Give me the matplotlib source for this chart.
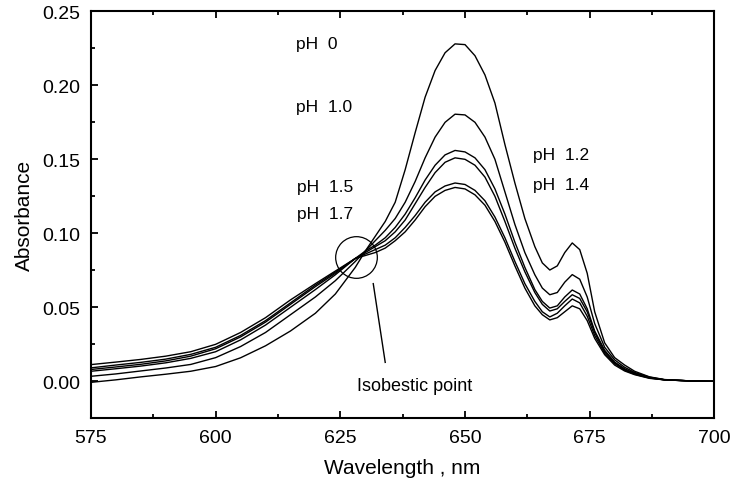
import matplotlib.pyplot as plt
from matplotlib.ticker import MultipleLocator

plt.rcParams['font.family'] = ['Liberation Sans', 'DejaVu Sans']

# wavelength grid (nm)
wl = [575, 580, 585, 590, 595, 600, 605, 610, 615, 620, 624, 628, 630, 632, 634,
      636, 638, 640, 642, 644, 646, 648, 650, 652, 654, 656, 658, 660, 662, 664,
      665.5, 667, 668.5, 670, 671.5, 673, 674.5, 676, 678, 680, 682, 684, 687,
      690, 695, 700]

# absorbance spectra, highest main peak first
abs_a = [-0.0007, 0.001, 0.003, 0.0048, 0.0068, 0.010, 0.0159, 0.024, 0.034, 0.046,
         0.059, 0.077, 0.088, 0.098, 0.108, 0.121, 0.143, 0.168, 0.192, 0.210,
         0.222, 0.228, 0.2275, 0.220, 0.207, 0.188, 0.160, 0.134, 0.110, 0.091,
         0.080, 0.0752, 0.078, 0.087, 0.0935, 0.089, 0.073, 0.047, 0.026, 0.016,
         0.011, 0.0068, 0.003, 0.0012, 0.0003, 0.0]
abs_b = [0.0034, 0.005, 0.007, 0.009, 0.0114, 0.016, 0.0235, 0.033, 0.045, 0.057,
         0.068, 0.081, 0.088, 0.095, 0.102, 0.110, 0.121, 0.135, 0.151, 0.165,
         0.175, 0.1805, 0.180, 0.175, 0.165, 0.150, 0.128, 0.106, 0.087, 0.072,
         0.063, 0.0585, 0.060, 0.067, 0.0721, 0.069, 0.057, 0.039, 0.023, 0.0145,
         0.0095, 0.006, 0.0028, 0.0011, 0.0003, 0.0]
abs_c = [0.0068, 0.0085, 0.0103, 0.0125, 0.0155, 0.020, 0.028, 0.038, 0.050, 0.062,
         0.072, 0.083, 0.088, 0.092, 0.097, 0.104, 0.113, 0.124, 0.136, 0.146,
         0.153, 0.156, 0.155, 0.151, 0.143, 0.130, 0.113, 0.094, 0.077, 0.062,
         0.054, 0.0495, 0.051, 0.057, 0.0617, 0.059, 0.049, 0.034, 0.021, 0.013,
         0.0085, 0.0055, 0.0025, 0.001, 0.0003, 0.0]
abs_d = [0.008, 0.0097, 0.0115, 0.0138, 0.017, 0.022, 0.030, 0.040, 0.052, 0.064,
         0.073, 0.083, 0.087, 0.091, 0.095, 0.101, 0.109, 0.120, 0.131, 0.141,
         0.148, 0.151, 0.150, 0.146, 0.138, 0.125, 0.108, 0.090, 0.074, 0.060,
         0.052, 0.0475, 0.049, 0.054, 0.0585, 0.056, 0.047, 0.033, 0.020, 0.0125,
         0.008, 0.005, 0.0024, 0.001, 0.0003, 0.0]
abs_e = [0.0091, 0.011, 0.0128, 0.015, 0.0182, 0.023, 0.031, 0.041, 0.053, 0.065,
         0.0738, 0.083, 0.086, 0.089, 0.092, 0.097, 0.104, 0.112, 0.121, 0.128,
         0.132, 0.134, 0.133, 0.129, 0.122, 0.111, 0.097, 0.081, 0.066, 0.054,
         0.047, 0.0435, 0.046, 0.051, 0.0556, 0.053, 0.044, 0.031, 0.019, 0.012,
         0.0075, 0.0048, 0.0022, 0.001, 0.0003, 0.0]
abs_f = [0.0113, 0.013, 0.0148, 0.017, 0.020, 0.025, 0.033, 0.043, 0.055, 0.066,
         0.0745, 0.083, 0.085, 0.087, 0.090, 0.095, 0.101, 0.109, 0.118, 0.125,
         0.129, 0.131, 0.130, 0.126, 0.119, 0.108, 0.094, 0.078, 0.063, 0.051,
         0.045, 0.0415, 0.043, 0.047, 0.051, 0.049, 0.041, 0.029, 0.018, 0.011,
         0.007, 0.0045, 0.002, 0.001, 0.0003, 0.0]
spectra = [abs_a, abs_b, abs_c, abs_d, abs_e, abs_f]

# labels: (text, wavelength, absorbance)
ph_labels = [("pH  0", 616.1, 0.228), ("pH  1.0", 616.1, 0.186),
             ("pH  1.5", 616.3, 0.1316), ("pH  1.7", 616.3, 0.1134),
             ("pH  1.2", 663.7, 0.153), ("pH  1.4", 663.7, 0.1327)]

iso_wl, iso_abs = 628.2, 0.084
pointer_wl = [631.6, 634.0]
pointer_abs = [0.066, 0.0128]

fig = plt.figure(figsize=(7.33, 4.89), dpi=100)
ax = fig.add_axes([0.1241, 0.1425, 0.8505, 0.8323])

for s in spectra:
    ax.plot(wl, s, color='black', lw=1.0)

# isosbestic circle and pointer
ax.plot([iso_wl], [iso_abs], marker='o', ms=30, mfc='none', mec='black', mew=0.9)
ax.plot(pointer_wl, pointer_abs, color='black', lw=1.0)
ax.text(639.8, -0.003, "Isobestic point", ha='center', va='center', fontsize=13)

for txt, x, y in ph_labels:
    ax.text(x, y, txt, ha='left', va='center', fontsize=12.5)

ax.set_xlim(575, 700)
ax.set_ylim(-0.025, 0.25)
ax.xaxis.set_major_locator(MultipleLocator(25))
ax.xaxis.set_minor_locator(MultipleLocator(12.5))
ax.yaxis.set_major_locator(MultipleLocator(0.05))
ax.yaxis.set_minor_locator(MultipleLocator(0.025))
ax.yaxis.set_major_formatter(plt.FormatStrFormatter('%.2f'))

ax.tick_params(which='both', direction='in', top=True, right=False, labelsize=14, width=1.3)
ax.tick_params(which='major', length=5, pad=8)
ax.tick_params(which='minor', length=3)
for sp in ax.spines.values():
    sp.set_linewidth(1.5)

ax.set_xlabel("Wavelength , nm", fontsize=15, labelpad=8)
ax.set_ylabel("Absorbance", fontsize=15, labelpad=6)

fig.savefig("out.png", dpi=100)
